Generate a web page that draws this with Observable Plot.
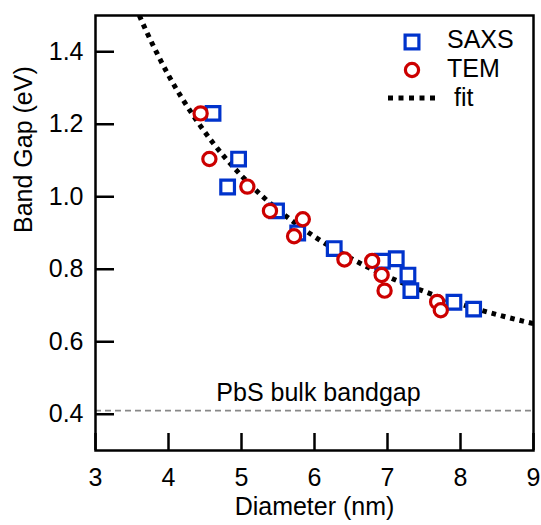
<!DOCTYPE html>
<html><head><meta charset="utf-8">
<script src="https://cdn.jsdelivr.net/npm/d3@7"></script>
<script src="https://cdn.jsdelivr.net/npm/@observablehq/plot@0.6"></script>
<style>body{margin:0;background:#fff} #chart{width:541px;height:525px}</style>
</head><body><div id="chart"></div>
<script>
// SAXS (blue squares)
const saxsDiameter = [4.61, 4.96, 4.81, 5.48, 5.77, 6.27, 6.93, 7.12, 7.28, 7.32, 7.91, 8.18];
const saxsGap      = [1.23, 1.104, 1.027, 0.961, 0.90, 0.857, 0.822, 0.829, 0.784, 0.741, 0.709, 0.69];
// TEM (red circles)
const temDiameter  = [4.44, 4.56, 5.08, 5.39, 5.84, 5.72, 6.41, 6.79, 6.92, 6.96, 7.68, 7.73];
const temGap       = [1.23, 1.104, 1.028, 0.961, 0.938, 0.891, 0.827, 0.823, 0.784, 0.741, 0.71, 0.687];
// fit curve
const fitDiameter  = [3.6, 3.7, 3.8, 3.9, 4.0, 4.2, 4.4, 4.6, 4.8, 5.0, 5.25, 5.5, 5.75, 6.0, 6.5, 7.0, 7.5, 8.0, 8.5, 9.0];
const fitGap       = [1.500, 1.455, 1.413, 1.373, 1.335, 1.267, 1.206, 1.151, 1.102, 1.058, 1.008, 0.964, 0.925, 0.890, 0.830, 0.780, 0.739, 0.704, 0.675, 0.650];
const bulkGap = 0.41;
const bulkLabel = "PbS bulk bandgap";
const xTicks = [3, 4, 5, 6, 7, 8, 9];
const yTicks = [0.4, 0.6, 0.8, 1.0, 1.2, 1.4];
const legendLabels = ["SAXS", "TEM", "fit"];
const xLabel = "Diameter (nm)";
const yLabel = "Band Gap (eV)";

const FS = 25;
const BLUE = "#0033cc", RED = "#cc0000";
const saxs = saxsDiameter.map((d, i) => ({d, e: saxsGap[i]}));
const tem = temDiameter.map((d, i) => ({d, e: temGap[i]}));
const fit = fitDiameter.map((d, i) => ({d, e: fitGap[i]}));

function legend(index, scales, values, dims) {
  const right = dims.width - dims.marginRight;
  const top = dims.marginTop;
  const g = d3.create("svg:g");
  const mx = right - 121;
  g.append("rect").attr("x", mx - 6.9).attr("y", top + 27 - 6.9).attr("width", 13.8).attr("height", 13.8)
    .attr("fill", "white").attr("stroke", BLUE).attr("stroke-width", 3.2);
  g.append("circle").attr("cx", mx).attr("cy", top + 55).attr("r", 6.6)
    .attr("fill", "white").attr("stroke", RED).attr("stroke-width", 3.2);
  g.append("line").attr("x1", mx - 24).attr("x2", mx + 23).attr("y1", top + 83).attr("y2", top + 83)
    .attr("stroke", "black").attr("stroke-width", 5).attr("stroke-dasharray", "5,5.5").attr("stroke-linecap", "butt");
  const tx = [mx + 35, mx + 35, mx + 42];
  const ty = [top + 33, top + 62, top + 91];
  legendLabels.forEach((t, i) => {
    g.append("text").attr("x", tx[i]).attr("y", ty[i]).attr("fill", "black")
      .attr("text-anchor", "start").attr("font-size", FS).text(t);
  });
  return g.node();
}

const chart = Plot.plot({
  width: 541, height: 525,
  marginLeft: 95, marginRight: 8, marginTop: 15, marginBottom: 75,
  x: {domain: [3, 9]},
  y: {domain: [0.3, 1.5]},
  style: {fontFamily: "'Liberation Sans', Arial, sans-serif", fontSize: FS + "px", color: "black", background: "white", overflow: "visible"},
  marks: [
    Plot.ruleY([bulkGap], {stroke: "#888", strokeWidth: 1.6, strokeDasharray: "6,4"}),
    Plot.text([{label: bulkLabel, y: bulkGap}], {y: "y", text: "label", dy: -18, dx: 4, fontSize: FS, fill: "black"}),
    Plot.line(fit, {x: "d", y: "e", stroke: "black", strokeWidth: 5, strokeDasharray: "4.6,5", strokeLinecap: "butt", curve: "monotone-x", clip: true}),
    Plot.dot(saxs, {x: "d", y: "e", symbol: "square", r: 7.7, stroke: BLUE, strokeWidth: 3.2, fill: "white"}),
    Plot.dot(tem, {x: "d", y: "e", symbol: "circle", r: 6.6, stroke: RED, strokeWidth: 3.2, fill: "white"}),
    Plot.tickY(yTicks, {y: d => d, insetRight: 438 - 19, stroke: "black", strokeWidth: 2.5}),
    Plot.tickX(xTicks, {x: d => d, insetTop: 435 - 17, stroke: "black", strokeWidth: 2.5}),
    Plot.axisX(xTicks, {tickSize: 0, tickPadding: 18, label: null, fontSize: FS}),
    Plot.axisY(yTicks, {tickSize: 0, tickPadding: 12, label: null, fontSize: FS, tickFormat: d3.format(".1f")}),
    Plot.text([xLabel], {frameAnchor: "bottom", dy: 64, fontSize: FS, fill: "black"}),
    Plot.text([yLabel], {frameAnchor: "left", rotate: -90, dx: -72, fontSize: FS, fill: "black"}),
    Plot.frame({stroke: "black", strokeWidth: 2.5}),
    legend
  ]
});
document.getElementById("chart").appendChild(chart);
</script>
</body></html>
